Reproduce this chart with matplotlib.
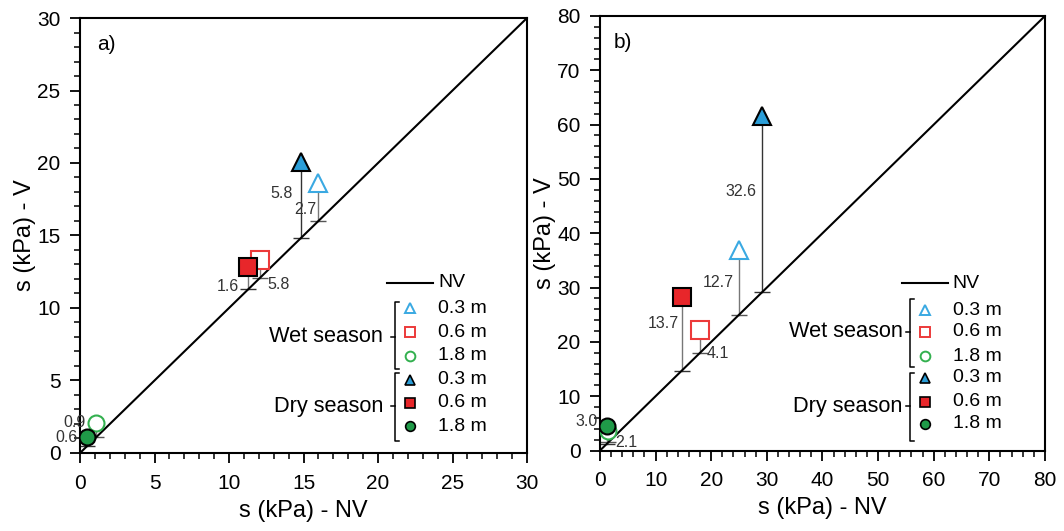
import numpy as np
import matplotlib.pyplot as plt
from matplotlib.ticker import MultipleLocator

plt.rcParams['font.family'] = ['Liberation Sans', 'DejaVu Sans']

# data: s (kPa), NV = no vegetation, V = vegetated
depths = ['0.3 m', '0.6 m', '1.8 m']

# panel a)
a_wet_nv = [16.0, 12.1, 1.1]
a_wet_v = [18.6, 13.3, 2.1]
a_dry_nv = [14.8, 11.3, 0.5]
a_dry_v = [20.1, 12.8, 1.1]
a_wet_lab = ['2.7', '5.8', '0.9']
a_dry_lab = ['5.8', '1.6', '0.6']

# panel b)
b_wet_nv = [25.0, 18.0, 1.5]
b_wet_v = [37.0, 22.1, 3.5]
b_dry_nv = [29.2, 14.7, 1.2]
b_dry_v = [61.5, 28.2, 4.5]
b_wet_lab = ['12.7', '4.1', '2.1']
b_dry_lab = ['32.6', '13.7', '3.0']

blue = '#2b9ed8'
red = '#e8262a'
green = '#1f9a48'
cols = [blue, red, green]
lightcols = ['#3aa9e2', '#ec3a3a', '#33b04f']
marks = ['^', 's', 'o']
msize = [12.5, 12.5, 11.5]

# label placement (x, y, ha) per point, panel a then b
a_wet_pos = [(15.85, 16.8, 'right'), (12.6, 11.6, 'left'), (0.35, 2.1, 'right')]
a_dry_pos = [(14.3, 17.9, 'right'), (10.7, 11.45, 'right'), (-0.15, 1.05, 'right')]
b_wet_pos = [(24.1, 30.9, 'right'), (19.2, 17.9, 'left'), (2.7, 1.4, 'left')]
b_dry_pos = [(28.2, 47.7, 'right'), (14.2, 23.3, 'right'), (-0.4, 5.3, 'right')]


def draw_panel(ax, lim, major, minor, wet_nv, wet_v, dry_nv, dry_v,
               wet_lab, dry_lab, wet_pos, dry_pos, tag, leg):
    ax.plot([0, lim], [0, lim], color='black', lw=1.5, zorder=2)
    for i in range(3):
        # wet season (open)
        ax.plot([wet_nv[i], wet_nv[i]], [wet_nv[i], wet_v[i]], color='#777777', lw=1, zorder=1)
        ax.plot(wet_nv[i], wet_nv[i], marker='_', ms=11, mew=1, color='#555555', zorder=1)
        ax.plot(wet_nv[i], wet_v[i], marker=marks[i], ms=msize[i], mfc='white',
                mec=lightcols[i], mew=1.5, ls='none', zorder=3)
        # dry season (filled)
        lc = '#333333' if i == 0 else '#777777'
        ax.plot([dry_nv[i], dry_nv[i]], [dry_nv[i], dry_v[i]], color=lc, lw=1, zorder=1)
        ax.plot(dry_nv[i], dry_nv[i], marker='_', ms=11, mew=1, color='#333333', zorder=1)
        ax.plot(dry_nv[i], dry_v[i], marker=marks[i], ms=msize[i], mfc=cols[i],
                mec='black', mew=1.5, ls='none', zorder=4)
        for lab, (x, y, ha) in [(wet_lab[i], wet_pos[i]), (dry_lab[i], dry_pos[i])]:
            ax.text(x, y, lab, ha=ha, va='center', fontsize=11.5, color='#333333', zorder=5)

    ax.set_xlim(0, lim)
    ax.set_ylim(0, lim)
    ax.xaxis.set_major_locator(MultipleLocator(major))
    ax.yaxis.set_major_locator(MultipleLocator(major))
    ax.xaxis.set_minor_locator(MultipleLocator(minor))
    ax.yaxis.set_minor_locator(MultipleLocator(minor))
    ax.tick_params(which='major', direction='out', length=7, width=1.3, labelsize=15)
    ax.tick_params(axis='x', which='major', pad=8)
    ax.tick_params(axis='y', which='major', pad=7)
    ax.tick_params(which='minor', direction='out', length=4.5, width=1.1)
    for s in ax.spines.values():
        ax.spines[s.spine_type].set_linewidth(1.5)
    ax.set_xlabel('s (kPa) - NV', fontsize=17, labelpad=5)
    ax.set_ylabel('s (kPa) - V', fontsize=17, labelpad=1)
    ax.text(tag[0], tag[1], tag[2], transform=ax.transAxes, fontsize=15, va='center')

    # hand-made legend with season brackets
    T = ax.transAxes
    x_l0, x_l1, y_nv, x_m, x_t, ys, xb, ytop_w, ybot_w, ytick_w, ytop_d, ybot_d, ytick_d, xs = leg
    ax.plot([x_l0, x_l1], [y_nv, y_nv], color='black', lw=1.5, transform=T, clip_on=False)
    ax.text(x_t, y_nv, 'NV', transform=T, fontsize=14, va='center')
    for k in range(6):
        i = k % 3
        if k < 3:
            ax.plot(x_m, ys[k], marker=marks[i], ms=7, mfc='white', mec=lightcols[i],
                    mew=1.4, transform=T, ls='none')
        else:
            ax.plot(x_m, ys[k], marker=marks[i], ms=7, mfc=cols[i], mec='black',
                    mew=1.2, transform=T, ls='none')
        ax.text(x_t, ys[k], depths[i], transform=T, fontsize=14, va='center')
    for ytop, ybot, ytick, name in [(ytop_w, ybot_w, ytick_w, 'Wet season'),
                                    (ytop_d, ybot_d, ytick_d, 'Dry season')]:
        ax.plot([xb + 0.009, xb, xb, xb + 0.009], [ytop, ytop, ybot, ybot],
                color='black', lw=1.1, transform=T)
        ax.plot([xb - 0.01, xb], [ytick, ytick], color='black', lw=1.1, transform=T)
        ax.text(xs, ytick, name, transform=T, fontsize=15.7, ha='right', va='center')


fig = plt.figure(figsize=(10.64, 5.31), dpi=100)
ax1 = fig.add_axes([0.0752, 0.1469, 0.4201, 0.8192])
ax2 = fig.add_axes([0.5639, 0.1516, 0.4182, 0.8183])

leg_a = (0.687, 0.790, 0.391, 0.738, 0.801,
         [0.333, 0.278, 0.223, 0.168, 0.115, 0.062],
         0.705, 0.347, 0.193, 0.267, 0.184, 0.028, 0.108, 0.678)
leg_b = (0.679, 0.782, 0.385, 0.730, 0.793,
         [0.323, 0.273, 0.217, 0.167, 0.112, 0.061],
         0.697, 0.349, 0.192, 0.273, 0.178, 0.022, 0.102, 0.68)

draw_panel(ax1, 30, 5, 1, a_wet_nv, a_wet_v, a_dry_nv, a_dry_v,
           a_wet_lab, a_dry_lab, a_wet_pos, a_dry_pos, (0.038, 0.938, 'a)'), leg_a)
draw_panel(ax2, 80, 10, 2, b_wet_nv, b_wet_v, b_dry_nv, b_dry_v,
           b_wet_lab, b_dry_lab, b_wet_pos, b_dry_pos, (0.03, 0.94, 'b)'), leg_b)

fig.savefig('out.png', dpi=100)
